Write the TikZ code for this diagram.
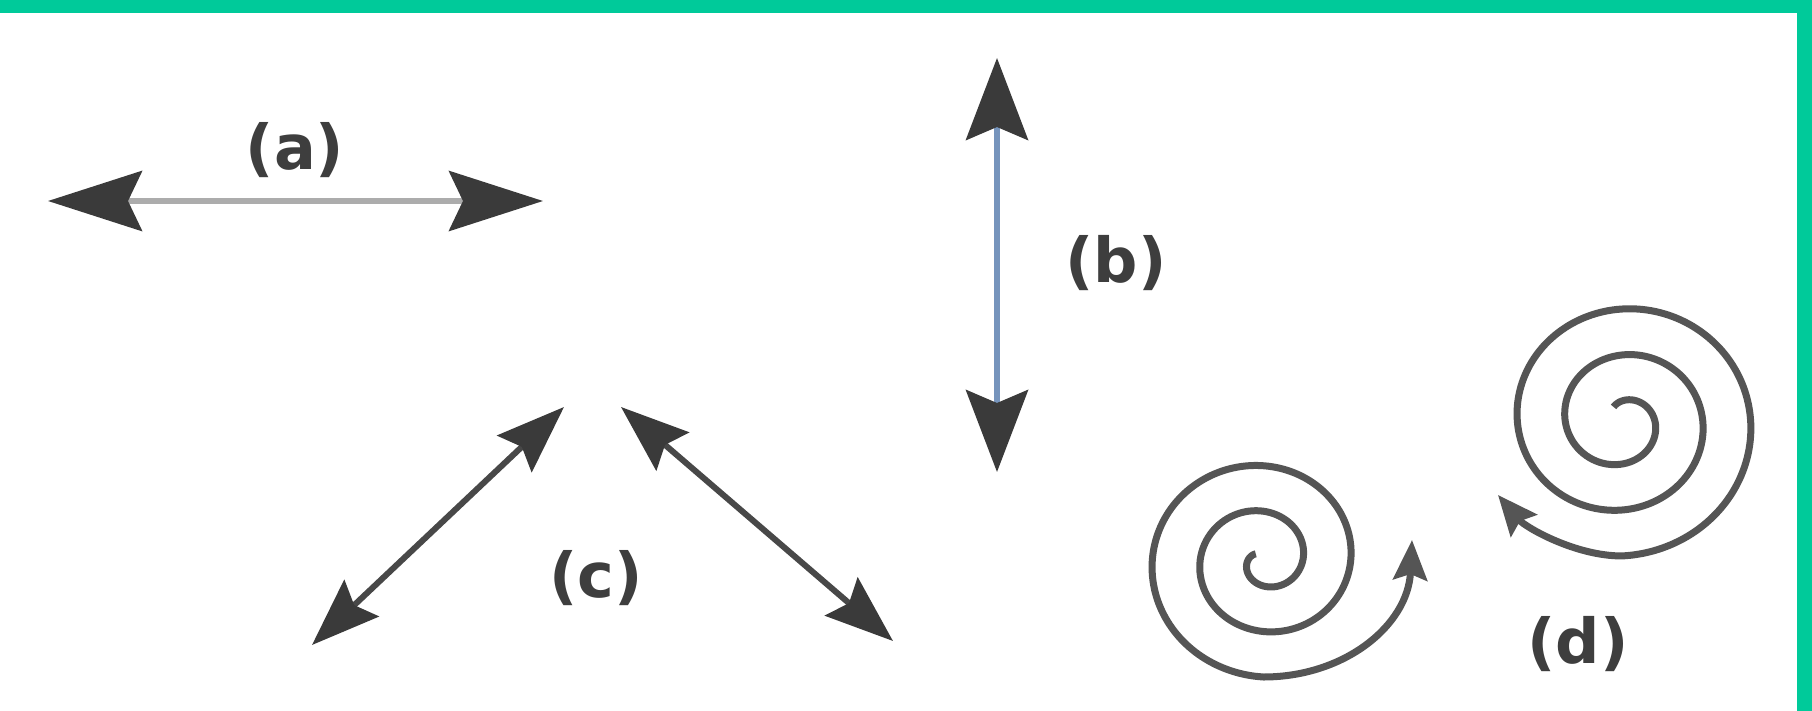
\documentclass[tikz,border=0pt]{standalone}
\usepackage{fontspec}
\setmainfont{DejaVu Sans}
\usetikzlibrary{arrows.meta}
\definecolor{frame}{RGB}{0,202,154}
\definecolor{headc}{RGB}{58,58,58}
\definecolor{shaftA}{RGB}{172,172,172}
\definecolor{shaftB}{RGB}{118,148,188}
\definecolor{shaftC}{RGB}{72,72,72}
\definecolor{spiralc}{RGB}{85,85,85}
\definecolor{labelc}{RGB}{62,62,62}
\tikzset{
  lbl/.style={text=labelc, font=\fontsize{62}{70}\selectfont\bfseries, inner sep=0pt, anchor=center},
  shafta/.style={draw=shaftA, line width=6pt,
     {Stealth[length=94pt,width=60pt,inset=14pt,color=headc]}-{Stealth[length=94pt,width=60pt,inset=14pt,color=headc]}},
  shaftb/.style={draw=shaftB, line width=6pt,
     {Stealth[length=82pt,width=62pt,inset=13pt,color=headc]}-{Stealth[length=82pt,width=62pt,inset=13pt,color=headc]}},
  shaftc/.style={draw=shaftC, line width=6pt,
     {Stealth[length=68pt,width=50pt,inset=10pt,color=headc]}-{Stealth[length=68pt,width=50pt,inset=10pt,color=headc]}},
  spiral/.style={draw=spiralc, line width=7pt,
     -{Stealth[length=40pt,width=34pt,inset=6pt,color=spiralc]}},
}
\begin{document}
\begin{tikzpicture}[x=1pt,y=-1pt]
\useasboundingbox (0,0) rectangle (1812,711);
\fill[white] (0,0) rectangle (1812,711);
\fill[frame] (0,0) rectangle (1812,13);
\fill[frame] (1797,0) rectangle (1812,711);

% (a)
\coordinate (a1) at (48,201);
\coordinate (a2) at (543,201);
\draw[shafta] (a1) -- (a2);
\node[lbl] (la) at (295,150) {(a)};

% (b)
\coordinate (b1) at (997,58);
\coordinate (b2) at (997,472);
\draw[shaftb] (b1) -- (b2);
\node[lbl] (lb) at (1116,263) {(b)};

% (c)
\coordinate (c1) at (312,645);
\coordinate (c2) at (564,407);
\coordinate (c3) at (621,407);
\coordinate (c4) at (893,641);
\draw[shaftc] (c1) -- (c2);
\draw[shaftc] (c3) -- (c4);
\node[lbl] (lc) at (596,578) {(c)};

% (d) spirals
\coordinate (d1) at (1412,540);
\coordinate (d2) at (1498,495);
\draw[spiral] plot[smooth, samples=220, domain=140:990, variable=\t]
   ({1263.5+(-8.5+0.133*\t)*cos(\t)}, {560-0.95*(-8.5+0.133*\t)*sin(\t)})
   .. controls (1345,677) and (1408,625) .. (d1);
\draw[spiral] plot[smooth, samples=220, domain=240:1170, variable=\t]
   ({1622+(-15+0.133*\t)*cos(\t)}, {421+0.96*(-15+0.133*\t)*sin(\t)})
   .. controls (1575,556) and (1525,527) .. (d2);
\node[lbl] (ld) at (1578,644) {(d)};
\end{tikzpicture}
\end{document}
